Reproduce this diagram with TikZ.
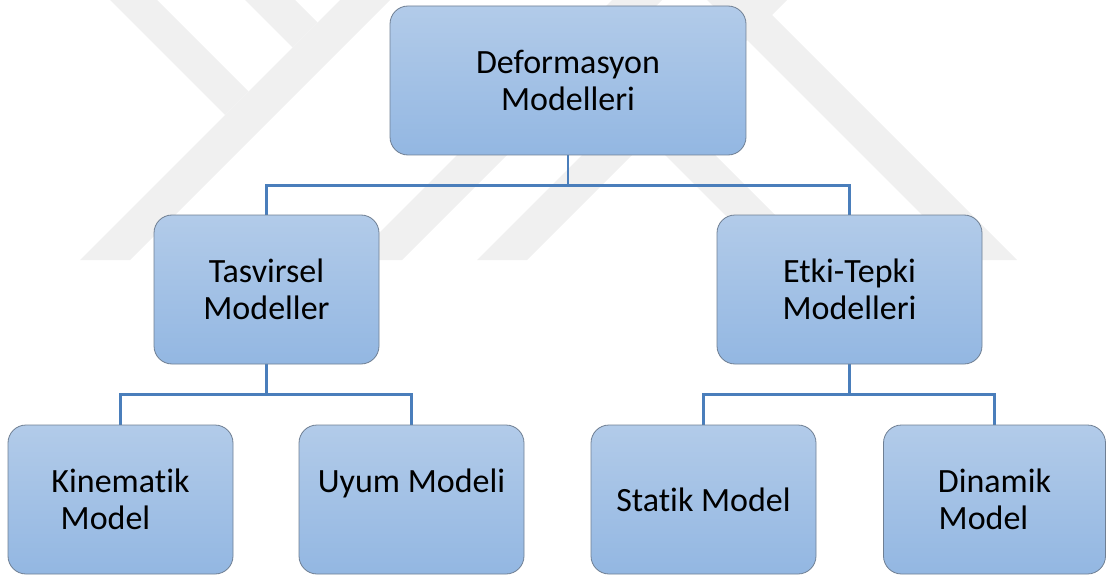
\documentclass[tikz,border=0pt]{standalone}
\usepackage{fontspec}
\setmainfont{Carlito}[Ligatures=NoCommon]
\usetikzlibrary{backgrounds}
\definecolor{boxtop}{HTML}{B2CBE9}
\definecolor{boxbot}{HTML}{93B7E2}
\definecolor{boxline}{HTML}{6F7F93}
\definecolor{conncol}{HTML}{4A7EBB}
\definecolor{wm}{HTML}{F0F0F0}
\begin{document}
\begin{tikzpicture}[x=1pt,y=-1pt,
  box/.style={draw=boxline, line width=0.8pt, rounded corners=18pt,
    top color=boxtop, bottom color=boxbot, minimum height=149pt,
    align=center, font=\fontsize{34}{37.5}\selectfont, inner sep=0pt},
  connector/.style={draw=conncol, line width=2.6pt},
  wmark/.style={fill=wm, draw=none}]
\useasboundingbox (0,0) rectangle (1106,575);

\node[box, minimum width=356pt] (def) at (568,80.5) {Deformasyon\\Modelleri};
\node[box, minimum width=225pt] (tas) at (266.5,289.5) {Tasvirsel\\Modeller};
\node[box, minimum width=265pt] (etk) at (849.5,289.5) {Etki-Tepki\\Modelleri};
\node[box, minimum width=225pt] (kin) at (120.5,499.5) {Kinematik\\Model\hspace*{30pt}};
\node[box, minimum width=225pt] (uyu) at (411.5,499.5) {Uyum Modeli\\\mbox{}};
\node[box, minimum width=225pt] (sta) at (703.5,499.5) {Statik Model};
\node[box, minimum width=222pt] (din) at (994.5,499.5) {Dinamik\\Model\hspace*{22pt}};

\begin{scope}[on background layer]
  % faint watermark
  \fill[wmark] (110,0) -- (157,0) -- (248.5,91.5) -- (225,115) -- cycle;
  \fill[wmark] (245,0) -- (295,0) -- (317.5,22.5) -- (292.5,47.5) -- cycle;
  \fill[wmark] (340,0) -- (390,0) -- (130,260) -- (80,260) -- cycle;
  \fill[wmark] (612,0) -- (662,0) -- (402,260) -- (352,260) -- cycle;
  \fill[wmark] (737,0) -- (787,0) -- (527,260) -- (477,260) -- cycle;
  \fill[wmark] (707,0) -- (757,0) -- (1017,260) -- (967,260) -- cycle;
  \fill[wmark] (648.5,138.5) -- (673.5,113.5) -- (820,260) -- (770,260) -- cycle;
  % connectors
  \draw[connector] (def.south) -- ++(0,30) -| (tas.north);
  \draw[connector] (def.south) -- ++(0,30) -| (etk.north);
  \draw[connector] (tas.south) -- ++(0,30) -| (kin.north);
  \draw[connector] (tas.south) -- ++(0,30) -| (uyu.north);
  \draw[connector] (etk.south) -- ++(0,30) -| (sta.north);
  \draw[connector] (etk.south) -- ++(0,30) -| (din.north);
\end{scope}
\end{tikzpicture}
\end{document}
